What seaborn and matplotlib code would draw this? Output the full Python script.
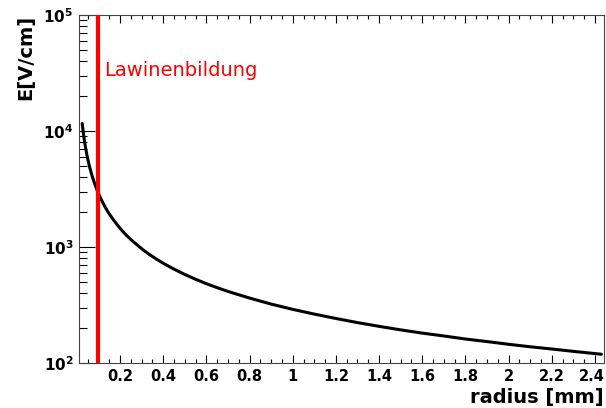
import numpy as np
import pandas as pd
import matplotlib
matplotlib.use("Agg")
import matplotlib.pyplot as plt
import matplotlib.ticker as mticker
import matplotlib.transforms as mtransforms
import seaborn as sns

# Data
radius_mm = [0.025, 0.0275, 0.03, 0.035, 0.04, 0.045, 0.05, 0.055, 0.06, 0.07, 0.08, 0.09,
             0.1, 0.11, 0.12, 0.13, 0.14, 0.15, 0.17, 0.19, 0.21, 0.23, 0.25, 0.28, 0.31,
             0.34, 0.37, 0.4, 0.45, 0.5, 0.55, 0.6, 0.65, 0.7, 0.8, 0.9, 1.0, 1.1, 1.2,
             1.3, 1.4, 1.5, 1.6, 1.7, 1.8, 1.9, 2.0, 2.1, 2.2, 2.3, 2.43]
field_v_cm = [11600, 10550, 9670, 8290, 7250, 6440, 5800, 5270, 4830, 4140, 3630, 3220,
              2900, 2640, 2420, 2230, 2070, 1930, 1710, 1530, 1380, 1260, 1160, 1040, 935,
              853, 784, 725, 644, 580, 527, 483, 446, 414, 363, 322, 290, 264, 242,
              223, 207, 193, 181, 171, 161, 153, 145, 138, 132, 126, 119]
x_ticks = [0.2, 0.4, 0.6, 0.8, 1.0, 1.2, 1.4, 1.6, 1.8, 2.0, 2.2, 2.4]
avalanche_radius = 0.1
avalanche_label = "Lawinenbildung"
x_label = "radius [mm]"
y_label = "E[V/cm]"

sns.set_style("ticks")
plt.rcParams["font.family"] = ["DejaVu Sans"]
plt.rcParams["mathtext.fontset"] = "dejavusans"
plt.rcParams["text.color"] = "black"
plt.rcParams["axes.labelcolor"] = "black"
plt.rcParams["xtick.color"] = "black"
plt.rcParams["ytick.color"] = "black"

df = pd.DataFrame({"r": radius_mm, "E": field_v_cm})

fig = plt.figure(figsize=(6.06, 4.08), dpi=100)
ax = fig.add_axes([79 / 606, 1 - 363 / 408, (604 - 79) / 606, (363 - 15) / 408])

sns.lineplot(data=df, x="r", y="E", ax=ax, color="black", linewidth=2.2, sort=False)
ax.axvline(avalanche_radius, color="#ff0000", linewidth=3.0, zorder=3)
ax.text(0.128, 3.35e4, avalanche_label, color="#ff0000", fontsize=14,
        ha="left", va="center")

ax.set_yscale("log")
ax.set_xlim(0.010, 2.442)
ax.set_ylim(100, 1e5)

ax.xaxis.set_major_locator(mticker.FixedLocator(x_ticks))
ax.xaxis.set_minor_locator(mticker.MultipleLocator(0.05))
ax.xaxis.set_major_formatter(mticker.FuncFormatter(lambda v, p: f"{v:g}"))
ax.yaxis.set_major_locator(mticker.LogLocator(base=10, numticks=10))
ax.yaxis.set_minor_locator(mticker.LogLocator(base=10, subs=np.arange(2, 10), numticks=20))
ax.yaxis.set_major_formatter(mticker.FuncFormatter(lambda v, p: r"$\mathbf{10^{%d}}$" % round(np.log10(v))))
ax.yaxis.set_minor_formatter(mticker.NullFormatter())

ax.tick_params(axis="x", which="major", direction="in", length=5.8, width=0.8,
               top=True, bottom=True, labelsize=10.5, pad=4, colors="black")
ax.tick_params(axis="x", which="minor", direction="in", length=2.9, width=0.8,
               top=True, bottom=True, colors="black")
ax.tick_params(axis="y", which="major", direction="in", length=11.5, width=0.8,
               left=True, right=False, labelsize=11, pad=4, colors="black")
ax.tick_params(axis="y", which="minor", direction="in", length=5.8, width=0.8,
               left=True, right=False, colors="black")

for s in ax.spines.values():
    s.set_visible(True)
    s.set_linewidth(0.8)
    s.set_color("#444444")

ax.set_xlabel(x_label, loc="right", fontsize=14, fontweight="bold", labelpad=3, color="black")
ax.set_ylabel(y_label, loc="top", fontsize=14, fontweight="bold", labelpad=6, color="black")

fig.canvas.draw()
for lbl in ax.get_xticklabels():
    lbl.set_fontweight("bold")
last = ax.xaxis.get_major_ticks()[len(x_ticks) - 1].label1
last.set_transform(last.get_transform() +
                   mtransforms.ScaledTranslation(-3 / 100, 0, fig.dpi_scale_trans))

fig.savefig("out.png", dpi=100)
